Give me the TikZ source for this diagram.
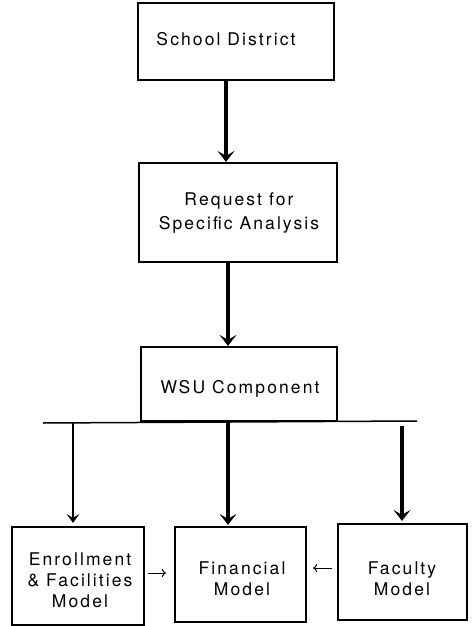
\documentclass[tikz,border=0pt]{standalone}
\usepackage{fontspec}
\setmainfont{TeX Gyre Heros}[LetterSpace=12]
\usetikzlibrary{arrows.meta}
\begin{document}
\begin{tikzpicture}[x=1pt,y=-1pt,
  frame/.style={draw, line width=2.2pt, inner sep=0pt},
  label text/.style={inner sep=0pt, align=center, font=\fontsize{17.5}{24}\selectfont},
  small text/.style={inner sep=0pt, align=center, font=\fontsize{17.5}{21}\selectfont},
  heavy/.style={line width=3.2pt, -{Stealth[length=11pt,width=17pt,inset=5pt]}},
  light/.style={line width=2.2pt, -{Stealth[length=9pt,width=13pt,inset=4pt]}},
  feed/.style={line width=1pt, -{To[length=4pt,width=8pt]}}]
\useasboundingbox (0,0) rectangle (475,626);

% boxes
\node[frame, minimum width=196pt, minimum height=77pt] (school) at (236,41.5) {};
\node[frame, minimum width=198pt, minimum height=99pt] (req) at (238,212.5) {};
\node[frame, minimum width=196pt, minimum height=74pt] (wsu) at (239,384) {};
\node[frame, minimum width=132pt, minimum height=98pt] (enroll) at (78,576) {};
\node[frame, minimum width=131pt, minimum height=95pt] (fin) at (240.5,574.5) {};
\node[frame, minimum width=129pt, minimum height=96pt] (fac) at (402.5,572) {};

% box texts
\node[label text, anchor=base] (schoolT) at (226,45.5) {School District};
\node[label text] (reqT) at (239,213) {Request for\\Specific Analysis};
\node[label text, anchor=base] (wsuT) at (240,393) {WSU Component};
\node[small text] (enrollT) at (80,580) {Enrollment\\\& Facilities\\Model};
\node[small text] (finT) at (242,578.5) {Financial\\Model};
\node[small text] (facT) at (402,579) {Faculty\\Model};

% main flow
\draw[heavy] ([xshift=-10pt]school.south) -- ([xshift=-12pt]req.north);
\draw[heavy] ([xshift=-10pt]req.south) -- ([xshift=-11pt]wsu.north);

% distribution bar under the WSU component
\coordinate (busL) at (43,423);
\coordinate (busR) at (417,421);
\draw[line width=1.5pt] (busL) -- (busR);

\coordinate (dropL) at (73,423);
\coordinate (dropM) at (228,422);
\coordinate (dropR) at (402,426);
\draw[light, shorten >=3pt] (dropL) -- (dropL |- enroll.north);
\draw[heavy, shorten >=1pt] (dropM) -- (dropM |- fin.north);
\draw[heavy, shorten >=2pt] (dropR) -- (dropR |- fac.north);

% feeds into the financial model
\path ([yshift=3pt]enroll.east) coordinate (e1);
\path ([yshift=4pt]fac.west) coordinate (f1);
\draw[feed, shorten <=3pt, shorten >=8pt] (e1) -- (e1 -| fin.west);
\draw[feed, shorten <=5pt, shorten >=6pt] (f1) -- (f1 -| fin.east);
\end{tikzpicture}
\end{document}
